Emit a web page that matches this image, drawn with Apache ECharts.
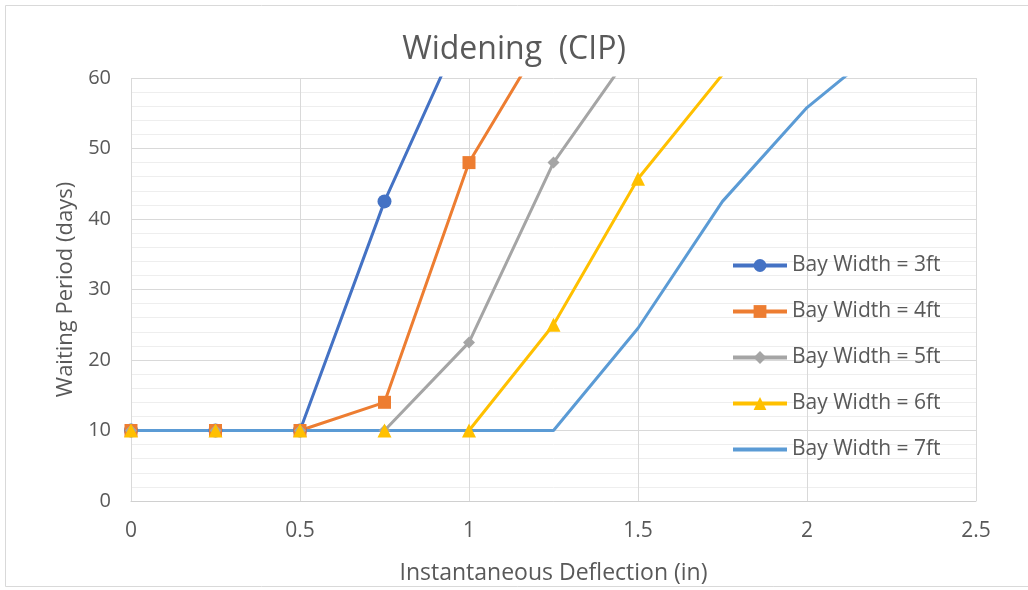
<!DOCTYPE html>
<html>
<head>
<meta charset="utf-8">
<script src="https://cdn.jsdelivr.net/npm/echarts@6/dist/echarts.min.js"></script>
<style>
  html, body { margin: 0; padding: 0; background: #fff; }
  #chart { width: 1028px; height: 590px; }
</style>
</head>
<body>
<div id="chart"></div>
<script>
// deflection steps (in)
const deflection = [0, 0.25, 0.5, 0.75, 1, 1.25, 1.5, 1.75, 2, 2.25];

// waiting period (days) per bay width, points past 60 run off the top
const bay3 = [10, 10, 10, 42.5, 69];
const bay4 = [10, 10, 10, 14, 48, 68];
const bay5 = [10, 10, 10, 10, 22.5, 48, 65];
const bay6 = [10, 10, 10, 10, 10, 25, 45.7, 60.5];
const bay7 = [10, 10, 10, 10, 10, 10, 24.5, 42.5, 55.8, 65.6];

const seriesNames = ["Bay Width = 3ft", "Bay Width = 4ft", "Bay Width = 5ft", "Bay Width = 6ft", "Bay Width = 7ft"];
const xTicks = [0, 0.5, 1, 1.5, 2, 2.5];
const yTicks = [0, 10, 20, 30, 40, 50, 60];

const FONT = "Open Sans";
const TEXT = "#595959";

const pairs = (vals) => vals.map((v, i) => [deflection[i], v]);

const mkSeries = (name, vals, color, symbol, size) => ({
    name: name,
    type: "line",
    data: pairs(vals),
    clip: true,
    symbol: symbol,
    symbolSize: size,
    showSymbol: symbol !== "none",
    lineStyle: { color: color, width: 3 },
    itemStyle: { color: color },
    emphasis: { disabled: true },
    animation: false,
});

const chart = echarts.init(document.getElementById("chart"));
chart.setOption({
    backgroundColor: "#fff",
    textStyle: { fontFamily: FONT },
    title: {
        text: "Widening  (CIP)",
        left: "center",
        top: 29,
        textStyle: { fontFamily: FONT, fontSize: 32, fontWeight: "normal", color: TEXT },
    },
    graphic: [{
        type: "rect",
        shape: { x: 5.5, y: 5.5, width: 1040, height: 581 },
        style: { fill: "none", stroke: "#d9d9d9", lineWidth: 1 },
        silent: true,
    }],
    grid: { left: 131, right: 52, top: 78, bottom: 89 },
    legend: {
        orient: "vertical",
        left: 731,
        top: 255,
        padding: 0,
        itemWidth: 54,
        itemHeight: 16,
        itemGap: 25,
        lineStyle: { width: 4 },
        data: seriesNames.map((n, i) => (i === 4 ? { name: n, itemStyle: { opacity: 0 } } : n)),
        textStyle: { fontFamily: FONT, fontSize: 21, color: TEXT, lineHeight: 20 },
    },
    xAxis: {
        type: "value",
        min: 0,
        max: 2.5,
        interval: 0.5,
        name: "Instantaneous Deflection (in)",
        nameLocation: "middle",
        nameGap: 61,
        nameTextStyle: { fontFamily: FONT, fontSize: 23, color: TEXT },
        axisLine: { show: true, lineStyle: { color: "#d0d0d0", width: 1 } },
        axisTick: { show: false },
        axisLabel: {
            margin: 20, fontFamily: FONT, fontSize: 21, color: TEXT,
            formatter: (v) => (xTicks.includes(v) ? String(v) : ""),
        },
        splitLine: { show: true, lineStyle: { color: "#d9d9d9", width: 1 } },
    },
    yAxis: {
        type: "value",
        min: 0,
        max: 60,
        interval: 10,
        name: "Waiting Period (days)",
        nameLocation: "middle",
        nameGap: 54,
        nameTextStyle: { fontFamily: FONT, fontSize: 22, color: TEXT },
        axisLine: { show: false },
        axisTick: { show: false },
        axisLabel: {
            margin: 20, fontFamily: FONT, fontSize: 20, color: TEXT,
            formatter: (v) => (yTicks.includes(v) ? String(v) : ""),
        },
        splitLine: { show: true, lineStyle: { color: "#d9d9d9", width: 1 } },
        minorTick: { show: false, splitNumber: 5 },
        minorSplitLine: { show: true, lineStyle: { color: "#eeeeee", width: 1 } },
    },
    series: [
        mkSeries(seriesNames[0], bay3, "#4472C4", "circle", 14),
        mkSeries(seriesNames[1], bay4, "#ED7D31", "rect", 13),
        mkSeries(seriesNames[2], bay5, "#A5A5A5", "diamond", 12),
        mkSeries(seriesNames[3], bay6, "#FFC000", "triangle", 14),
        mkSeries(seriesNames[4], bay7, "#5B9BD5", "none", 0),
    ],
});
</script>
</body>
</html>
